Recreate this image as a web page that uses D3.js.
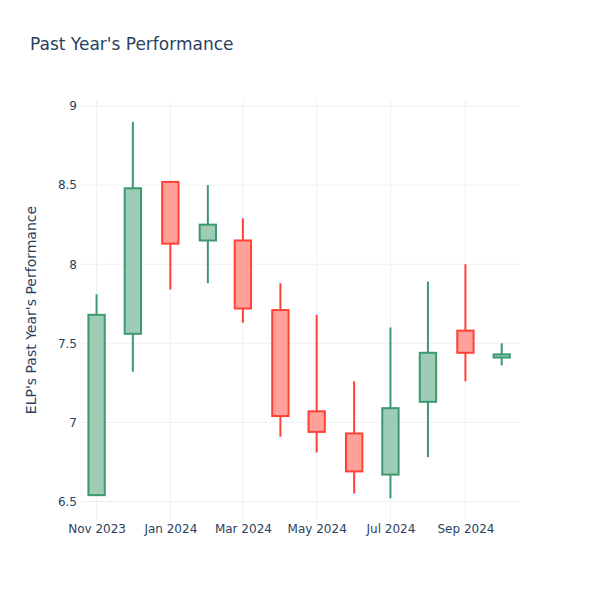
<!DOCTYPE html>
<html>
<head>
<meta charset="utf-8">
<script src="https://cdn.jsdelivr.net/npm/d3@7"></script>
<style>
  html, body { margin: 0; padding: 0; background: #fff; }
  svg { display: block; }
  text { font-family: "DejaVu Sans", Verdana, sans-serif; fill: #2a3f5f; }
</style>
</head>
<body>
<svg id="chart" width="600" height="600"></svg>
<script>
// Data (monthly candles)
const dates = ["2023-11-01","2023-12-01","2024-01-01","2024-02-01","2024-03-01","2024-04-01",
               "2024-05-01","2024-06-01","2024-07-01","2024-08-01","2024-09-01","2024-10-01"];
const open  = [6.54, 7.56, 8.52, 8.15, 8.15, 7.71, 7.07, 6.93, 6.67, 7.13, 7.58, 7.41];
const high  = [7.81, 8.90, 8.52, 8.50, 8.29, 7.88, 7.68, 7.26, 7.60, 7.89, 8.00, 7.50];
const low   = [6.54, 7.32, 7.84, 7.88, 7.63, 6.91, 6.81, 6.55, 6.52, 6.78, 7.26, 7.36];
const close = [7.68, 8.48, 8.13, 8.25, 7.72, 7.04, 6.94, 6.69, 7.09, 7.44, 7.44, 7.43];
const yTicks = [6.5, 7, 7.5, 8, 8.5, 9];
const yTickLabels = ["6.5", "7", "7.5", "8", "8.5", "9"];
const xTicks = ["2023-11-01","2024-01-01","2024-03-01","2024-05-01","2024-07-01","2024-09-01"];
const title = "Past Year's Performance";
const yTitle = "ELP's Past Year's Performance";

const incColor = "#3D9970", decColor = "#FF4136";
const svg = d3.select("#chart");
const L = 80, R = 520, T = 100, B = 520;

const parse = d3.utcParse("%Y-%m-%d");
const x = d3.scaleUtc()
  .domain([new Date(Date.UTC(2023, 9, 18, 7)), new Date(Date.UTC(2024, 9, 16, 3))])
  .range([L, R]);
const y = d3.scaleLinear().domain([6.383, 9.038]).range([B, T]);

// grid
const grid = svg.append("g");
grid.selectAll("line.h").data(yTicks).join("line")
  .attr("x1", L).attr("x2", R)
  .attr("y1", d => y(d)).attr("y2", d => y(d))
  .attr("stroke", "#EBF0F8").attr("stroke-width", 1);
grid.selectAll("line.v").data(xTicks.map(parse)).join("line")
  .attr("x1", d => x(d)).attr("x2", d => x(d))
  .attr("y1", T).attr("y2", B)
  .attr("stroke", "#EBF0F8").attr("stroke-width", 1);

// axes (labels only)
const yAxis = d3.axisLeft(y).tickValues(yTicks).tickFormat((d, i) => yTickLabels[i]).tickSize(0).tickPadding(3);
const ya = svg.append("g").attr("transform", `translate(${L},0)`).call(yAxis);
ya.select(".domain").remove();
ya.selectAll("text").style("font-size", "12px").attr("fill", "#2a3f5f")
  .style("font-family", '"DejaVu Sans", Verdana, sans-serif');

const xAxis = d3.axisBottom(x).tickValues(xTicks.map(parse)).tickFormat(d3.utcFormat("%b %Y")).tickSize(0).tickPadding(4);
const xa = svg.append("g").attr("transform", `translate(0,${B})`).call(xAxis);
xa.select(".domain").remove();
xa.selectAll("text").style("font-size", "12px").attr("fill", "#2a3f5f")
  .style("font-family", '"DejaVu Sans", Verdana, sans-serif');

// candles
const data = dates.map((d, i) => ({ date: parse(d), o: open[i], h: high[i], l: low[i], c: close[i] }));
const step = x(parse(dates[1])) - x(parse(dates[0]));
const bw = step * 0.45;
const g = svg.append("g");
const candle = g.selectAll("g.c").data(data).join("g");
candle.append("line")
  .attr("x1", d => x(d.date)).attr("x2", d => x(d.date))
  .attr("y1", d => y(d.h)).attr("y2", d => y(d.l))
  .attr("stroke", d => d.c >= d.o ? incColor : decColor).attr("stroke-width", 2);
candle.append("rect")
  .attr("x", d => x(d.date) - bw / 2).attr("width", bw)
  .attr("y", d => y(Math.max(d.o, d.c)))
  .attr("height", d => Math.max(0.5, Math.abs(y(d.o) - y(d.c))))
  .attr("fill", "#fff");
candle.append("rect")
  .attr("x", d => x(d.date) - bw / 2).attr("width", bw)
  .attr("y", d => y(Math.max(d.o, d.c)))
  .attr("height", d => Math.max(0.5, Math.abs(y(d.o) - y(d.c))))
  .attr("fill", d => d.c >= d.o ? "rgba(61,153,112,0.5)" : "rgba(255,65,54,0.5)")
  .attr("stroke", d => d.c >= d.o ? incColor : decColor).attr("stroke-width", 2);

// titles
svg.append("text").attr("x", 30).attr("y", 50).style("font-size", "17px").text(title);
svg.append("text")
  .attr("transform", `translate(36,${(T + B) / 2}) rotate(-90)`)
  .attr("text-anchor", "middle").style("font-size", "14px").text(yTitle);
</script>
</body>
</html>
